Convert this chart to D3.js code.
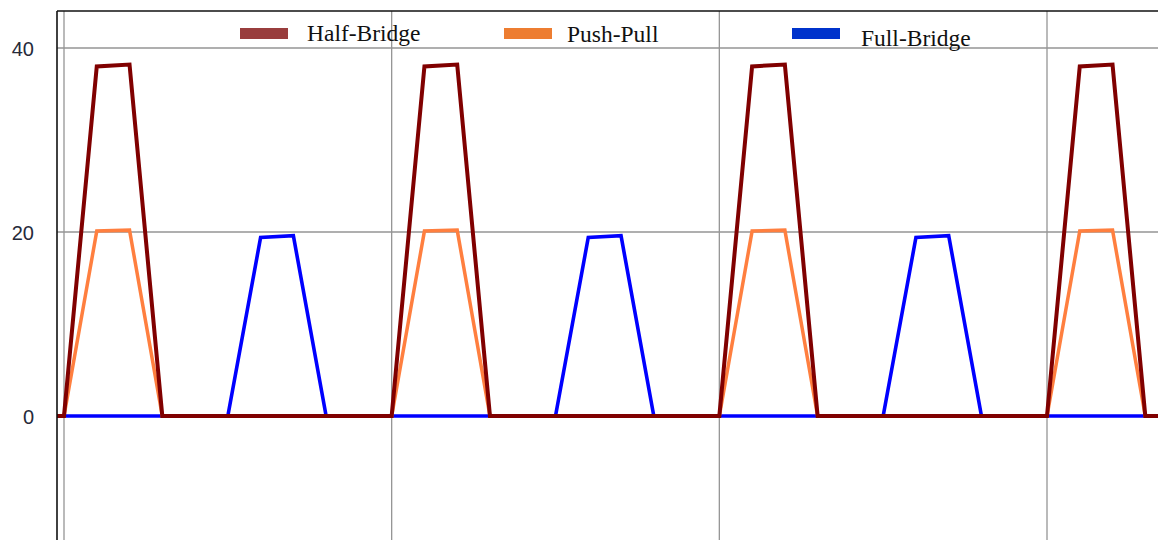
<!DOCTYPE html>
<html>
<head>
<meta charset="utf-8">
<script src="https://cdn.jsdelivr.net/npm/d3@7"></script>
<style>
  html, body { margin: 0; padding: 0; background: #fff; }
  svg { display: block; }
</style>
</head>
<body>
<svg id="chart" width="1158" height="540"></svg>
<script>
// Time steps (one sample per switching interval)
const timeSteps = [-1, 0, 1, 2, 3, 4, 5, 6, 7, 8, 9,
  10, 11, 12, 13, 14, 15, 16, 17, 18, 19,
  20, 21, 22, 23, 24, 25, 26, 27, 28, 29,
  30, 31, 32, 33, 34];

// Series values per time step
const halfBridge = [0, 0, 38, 38.2, 0, 0, 0, 0, 0, 0, 0,
  0, 38, 38.2, 0, 0, 0, 0, 0, 0, 0,
  0, 38, 38.2, 0, 0, 0, 0, 0, 0, 0,
  0, 38, 38.2, 0, 0];
const pushPull = [0, 0, 20.1, 20.2, 0, 0, 0, 0, 0, 0, 0,
  0, 20.1, 20.2, 0, 0, 0, 0, 0, 0, 0,
  0, 20.1, 20.2, 0, 0, 0, 0, 0, 0, 0,
  0, 20.1, 20.2, 0, 0];
const fullBridge = [0, 0, 0, 0, 0, 0, 0, 19.4, 19.6, 0, 0,
  0, 0, 0, 0, 0, 0, 19.4, 19.6, 0, 0,
  0, 0, 0, 0, 0, 0, 19.4, 19.6, 0, 0,
  0, 0, 0, 0, 0];

const seriesNames = ["Half-Bridge", "Push-Pull", "Full-Bridge"];
const yTickValues = [0, 20, 40];
const xGridValues = [0, 10, 20, 30];

const svg = d3.select("#chart");
const plot = { left: 57, top: 11, right: 1158, bottom: 540 };

const x = d3.scaleLinear().domain([0, 30]).range([64, 1047]);
const y = d3.scaleLinear().domain([0, 40]).range([416, 48]);

svg.append("defs").append("clipPath").attr("id", "plotClip")
  .append("rect")
  .attr("x", plot.left).attr("y", plot.top)
  .attr("width", plot.right - plot.left).attr("height", plot.bottom - plot.top);

// Grid lines
const grid = svg.append("g").attr("clip-path", "url(#plotClip)");
grid.selectAll("line.hgrid").data(yTickValues).join("line")
  .attr("class", "hgrid")
  .attr("x1", plot.left).attr("x2", plot.right)
  .attr("y1", d => y(d)).attr("y2", d => y(d))
  .attr("stroke", "#959595").attr("stroke-width", 1.3);
grid.selectAll("line.vgrid").data(xGridValues).join("line")
  .attr("class", "vgrid")
  .attr("x1", d => x(d)).attr("x2", d => x(d))
  .attr("y1", plot.top).attr("y2", plot.bottom)
  .attr("stroke", "#959595").attr("stroke-width", 1.3);

// Y axis labels
const yAxis = d3.axisLeft(y).tickValues(yTickValues).tickSize(0).tickPadding(0);
const yAxisG = svg.append("g").attr("transform", "translate(34,0)").call(yAxis);
yAxisG.select(".domain").remove();
yAxisG.selectAll("text")
  .attr("font-family", "Liberation Sans, Arial, sans-serif")
  .attr("font-size", 20)
  .attr("fill", "#262a3a")
  .attr("dy", "0.35em");

// Series lines (blue underneath, dark red on top)
const lineGen = vals => d3.line()
  .x((d, i) => x(timeSteps[i]))
  .y(d => y(d))(vals);

const lines = svg.append("g").attr("clip-path", "url(#plotClip)");
const lineSpecs = [
  { values: fullBridge, color: "#0000ff", width: 3.6 },
  { values: pushPull, color: "#ff7f3f", width: 3.5 },
  { values: halfBridge, color: "#800000", width: 4 }
];
lines.selectAll("path").data(lineSpecs).join("path")
  .attr("d", d => lineGen(d.values))
  .attr("fill", "none")
  .attr("stroke", d => d.color)
  .attr("stroke-width", d => d.width)
  .attr("stroke-linejoin", "miter");

// Plot frame (top and left)
svg.append("line").attr("x1", plot.left).attr("x2", plot.right)
  .attr("y1", plot.top).attr("y2", plot.top)
  .attr("stroke", "#111").attr("stroke-width", 1.6);
svg.append("line").attr("x1", plot.left).attr("x2", plot.left)
  .attr("y1", plot.top).attr("y2", plot.bottom)
  .attr("stroke", "#111").attr("stroke-width", 1.6);

// Legend
const legendItems = [
  { name: seriesNames[0], swatch: "#993d3d", sx: 240, tx: 307, ty: 41 },
  { name: seriesNames[1], swatch: "#ed7d31", sx: 504, tx: 567, ty: 42 },
  { name: seriesNames[2], swatch: "#0033cc", sx: 792, tx: 861, ty: 46 }
];
const legend = svg.append("g");
legend.selectAll("rect").data(legendItems).join("rect")
  .attr("x", d => d.sx).attr("y", 28)
  .attr("width", 48).attr("height", 11)
  .attr("fill", d => d.swatch);
legend.selectAll("text").data(legendItems).join("text")
  .attr("x", d => d.tx).attr("y", d => d.ty)
  .attr("font-family", "Liberation Serif, Times New Roman, serif")
  .attr("font-size", 23.5)
  .attr("fill", "#111")
  .text(d => d.name);
</script>
</body>
</html>
